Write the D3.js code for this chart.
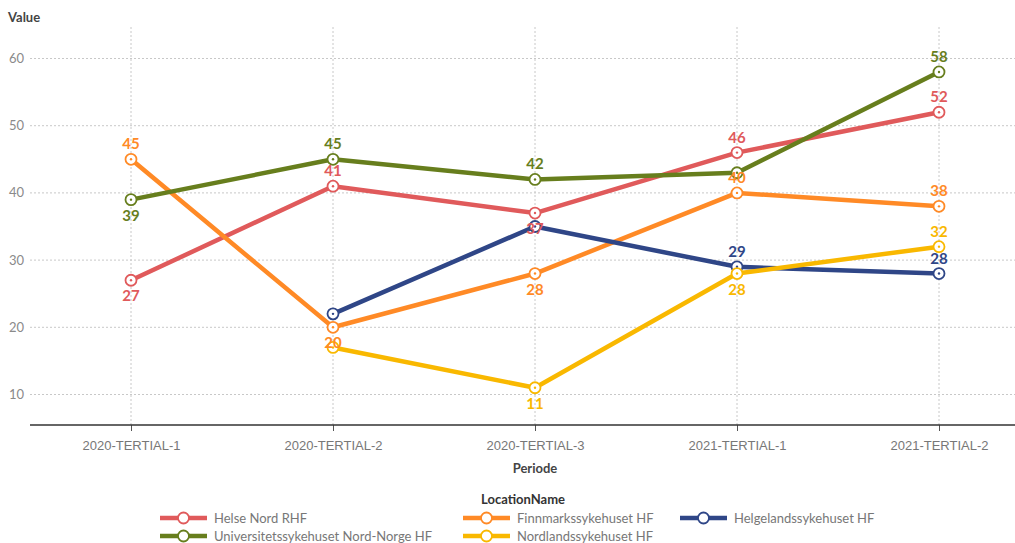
<!DOCTYPE html>
<html>
<head>
<meta charset="utf-8">
<script src="https://cdn.jsdelivr.net/npm/d3@7.9.0/dist/d3.min.js"></script>
<style>
  body { margin: 0; background: #fff; }
  svg { display: block; font-family: Lato, "Open Sans", sans-serif; }
</style>
</head>
<body>
<svg id="chart" width="1015" height="543"></svg>
<script>
const periods = ['2020-TERTIAL-1', '2020-TERTIAL-2', '2020-TERTIAL-3', '2021-TERTIAL-1', '2021-TERTIAL-2'];
const seriesNames = ['Helse Nord RHF', 'Finnmarkssykehuset HF', 'Helgelandssykehuset HF', 'Universitetssykehuset Nord-Norge HF', 'Nordlandssykehuset HF'];
const helseNord = [27, 41, 37, 46, 52];
const finnmark = [45, 20, 28, 40, 38];
const helgeland = [null, 22, 35, 29, 28];
const unn = [39, 45, 42, 43, 58];
const nordland = [null, 17, 11, 28, 32];
const yTicks = [10, 20, 30, 40, 50, 60];

const colors = ['#e05a5b', '#ff8a26', '#2f4687', '#677e1d', '#f9b800'];
// which data labels are shown, above ('a') or below ('b') the point
const labelPos = [
  ['b', 'a', 'b', 'a', 'a'],
  ['a', 'b', 'b', 'a', 'a'],
  [null, null, null, 'a', 'a'],
  ['b', 'a', 'a', null, 'a'],
  [null, null, 'b', 'b', 'a']
];
const allValues = [helseNord, finnmark, helgeland, unn, nordland];

const svg = d3.select('#chart');
const plotLeft = 30, plotRight = 1015, plotTop = 27, plotBottom = 425;

const x = d3.scalePoint().domain(periods).range([plotLeft, 1040]).padding(0.5);
const y = d3.scaleLinear().domain([5.46, 64.69]).range([plotBottom, plotTop]);

// grid
svg.append('g').selectAll('line').data(yTicks).join('line')
  .attr('x1', plotLeft).attr('x2', plotRight)
  .attr('y1', d => y(d)).attr('y2', d => y(d))
  .attr('stroke', '#c8c8c8').attr('stroke-dasharray', '2,2');
svg.append('g').selectAll('line').data(periods).join('line')
  .attr('x1', d => x(d)).attr('x2', d => x(d))
  .attr('y1', plotTop).attr('y2', plotBottom)
  .attr('stroke', '#c8c8c8').attr('stroke-dasharray', '2,2');

// y tick labels
svg.append('g').selectAll('text').data(yTicks).join('text')
  .attr('x', 24).attr('y', d => y(d) + 4.5)
  .attr('text-anchor', 'end')
  .attr('font-size', 13).attr('fill', '#8a8a8a')
  .text(d => d);

// x axis
const xAxis = svg.append('g').attr('transform', `translate(0,${plotBottom})`)
  .call(d3.axisBottom(x).tickSize(6).tickPadding(10));
xAxis.select('.domain').remove();
xAxis.append('line').attr('x1', plotLeft).attr('x2', plotRight).attr('stroke', '#333').attr('stroke-width', 1.3);
xAxis.selectAll('.tick line').attr('stroke', '#555');
xAxis.selectAll('.tick text').attr('font-size', 13).attr('fill', '#777')
  .attr('font-family', 'Liberation Sans, Arial, sans-serif');

svg.append('text').attr('x', 8).attr('y', 22)
  .attr('font-size', 13).attr('font-weight', 'bold').attr('fill', '#444').text('Value');
svg.append('text').attr('x', x(periods[2])).attr('y', 473).attr('text-anchor', 'middle')
  .attr('font-size', 13).attr('font-weight', 'bold').attr('fill', '#444').text('Periode');

// lines
const line = d3.line()
  .defined(d => d.v != null)
  .x(d => x(d.p))
  .y(d => y(d.v));

allValues.forEach((vals, i) => {
  const pts = vals.map((v, j) => ({ p: periods[j], v }));
  svg.append('path').datum(pts)
    .attr('d', line)
    .attr('fill', 'none')
    .attr('stroke', colors[i])
    .attr('stroke-width', 4.5)
    .attr('stroke-linejoin', 'round');
});

allValues.forEach((vals, i) => {
  const pts = vals.map((v, j) => ({ p: periods[j], v, j })).filter(d => d.v != null);
  const g = svg.append('g');
  g.selectAll('circle.m').data(pts).join('circle')
    .attr('cx', d => x(d.p)).attr('cy', d => y(d.v)).attr('r', 5.5)
    .attr('fill', 'white').attr('stroke', colors[i]).attr('stroke-width', 1.8);
  g.selectAll('circle.d').data(pts).join('circle')
    .attr('cx', d => x(d.p)).attr('cy', d => y(d.v)).attr('r', 1.2)
    .attr('fill', colors[i]);
});

allValues.forEach((vals, i) => {
  const pts = vals.map((v, j) => ({ p: periods[j], v, pos: labelPos[i][j] }))
    .filter(d => d.v != null && d.pos);
  svg.append('g').selectAll('text').data(pts).join('text')
    .attr('x', d => x(d.p))
    .attr('y', d => d.pos === 'a' ? y(d.v) - 10 : y(d.v) + 21)
    .attr('text-anchor', 'middle')
    .attr('font-size', 15).attr('font-weight', 'bold')
    .attr('fill', colors[i])
    .text(d => d.v);
});

// legend
svg.append('text').attr('x', 523).attr('y', 504).attr('text-anchor', 'middle')
  .attr('font-size', 13).attr('font-weight', 'bold').attr('fill', '#333').text('LocationName');

const legendX = [160, 463, 680];
seriesNames.forEach((name, i) => {
  const lx = legendX[i % 3];
  const ly = i < 3 ? 518 : 536;
  const g = svg.append('g').attr('transform', `translate(${lx},${ly})`);
  g.append('line').attr('x1', 0).attr('x2', 47).attr('stroke', colors[i]).attr('stroke-width', 4.5);
  g.append('circle').attr('cx', 23.5).attr('r', 5.5).attr('fill', 'white')
    .attr('stroke', colors[i]).attr('stroke-width', 1.8);
  g.append('text').attr('x', 54).attr('y', 5).attr('font-size', 13).attr('fill', '#777').text(name);
});
</script>
</body>
</html>
